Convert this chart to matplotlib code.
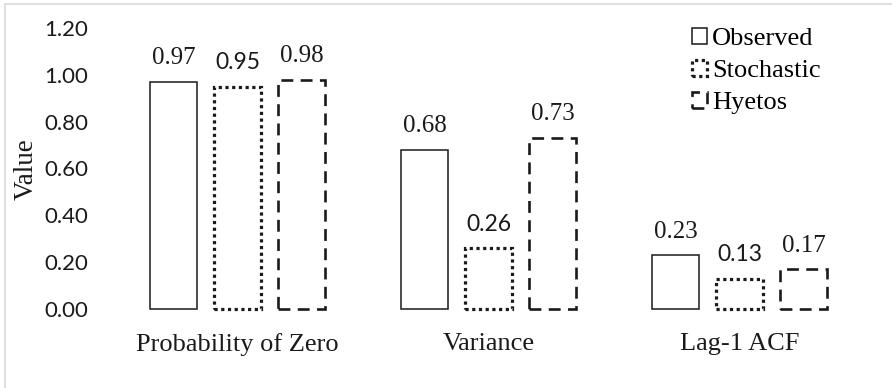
import numpy as np
import matplotlib
matplotlib.use('Agg')
import matplotlib.pyplot as plt
from matplotlib.patches import Patch, Rectangle

categories = ['Probability of Zero', 'Variance', 'Lag-1 ACF']
series = ['Observed', 'Stochastic', 'Hyetos']
observed = [0.97, 0.68, 0.23]
stochastic = [0.95, 0.26, 0.13]
hyetos = [0.98, 0.73, 0.17]
yticks = [0.0, 0.2, 0.4, 0.6, 0.8, 1.0, 1.2]

serif = 'Liberation Serif'
sans = 'Lato'
ink = '#1a1a1a'

# line style, width and value-label font for each series
styles = {
    'Observed': dict(ls='-', lw=1.1, font=serif, size=18),
    'Stochastic': dict(ls=(0, (1, 1.1)), lw=2.3, font=sans, size=16.5),
    'Hyetos': dict(ls=(0, (4.5, 2.8)), lw=1.9, font=serif, size=18),
}

fig = plt.figure(figsize=(8.92, 3.88), dpi=100)
ax = fig.add_axes([112/892, 1 - 309/388, 753/892, 281/388])

x = np.arange(len(categories))
width = 0.191
offsets = [-0.255, 0.0, 0.255]

for name, vals, off in zip(series, [observed, stochastic, hyetos], offsets):
    st = styles[name]
    bars = ax.bar(x + off, vals, width, facecolor='white', edgecolor=ink,
                  linewidth=st['lw'], linestyle=st['ls'], clip_on=False)
    for b, v in zip(bars, vals):
        ax.annotate('{:.2f}'.format(v), (b.get_x() + b.get_width()/2, v),
                    xytext=(0, 17), textcoords='offset points',
                    ha='center', va='center', fontsize=st['size'],
                    family=st['font'], color=ink)

ax.set_xlim(-0.5, 2.5)
ax.set_ylim(0, 1.2)
ax.set_yticks(yticks)
ax.set_yticklabels(['{:.2f}'.format(t) for t in yticks], family=sans,
                   fontsize=16, color=ink)
ax.set_xticks(x)
ax.set_xticklabels(categories, family=serif, fontsize=19, color=ink)
ax.tick_params(axis='y', length=0, pad=17)
ax.tick_params(axis='x', length=0, pad=17)
for s in ax.spines.values():
    s.set_visible(False)

fig.text(26/892, 1 - 169/388, 'Value', rotation=90, ha='center', va='center',
         family=serif, fontsize=19.5, color=ink)

handles = [Patch(facecolor='white', edgecolor=ink, linewidth=styles[n]['lw'],
                 linestyle=styles[n]['ls']) for n in series]
ax.legend(handles, series, loc='upper left',
          bbox_to_anchor=(679/892, 1 - 15/388), bbox_transform=fig.transFigure,
          frameon=False, borderpad=0, handlelength=0.55, handleheight=0.55,
          handletextpad=0.2, labelspacing=0.36,
          prop={'family': serif, 'size': 19})

# thin grey frame round the chart, running off the right and bottom edges
fig.patches.append(Rectangle((5/892, -10/388), 900/892, 394/388,
                             transform=fig.transFigure, fill=False,
                             edgecolor='#d9d9d9', linewidth=1.2))

fig.savefig('out.png', dpi=100)
plt.close(fig)
